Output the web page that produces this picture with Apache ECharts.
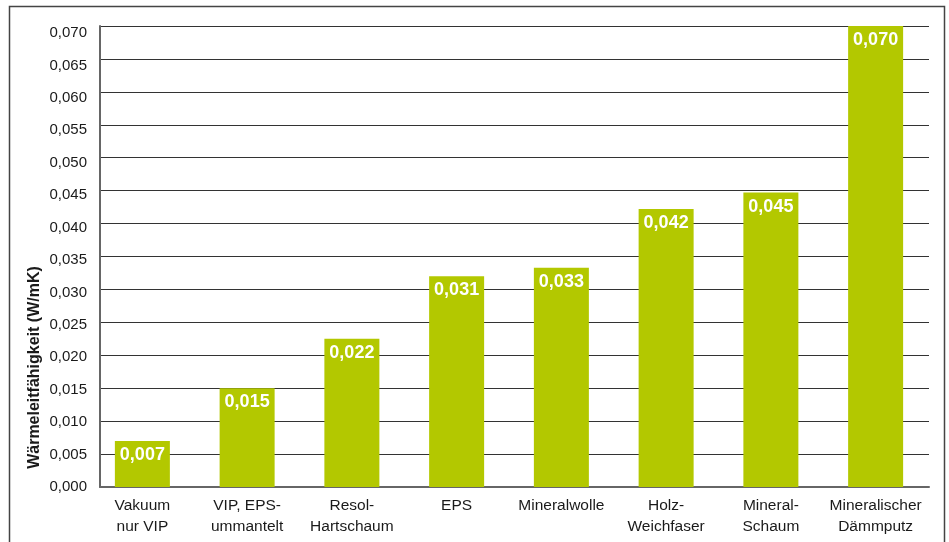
<!DOCTYPE html>
<html>
<head>
<meta charset="utf-8">
<script src="https://cdn.jsdelivr.net/npm/echarts@6/dist/echarts.min.js"></script>
<style>
html,body{margin:0;padding:0;background:#fff;}
#chart{width:949px;height:542px;}
</style>
</head>
<body>
<div id="chart"></div>
<script>
const categories = ["Vakuum\nnur VIP", "VIP, EPS-\nummantelt", "Resol-\nHartschaum", "EPS", "Mineralwolle", "Holz-\nWeichfaser", "Mineral-\nSchaum", "Mineralischer\nDämmputz"];
const values = [0.007, 0.015, 0.0225, 0.032, 0.0333, 0.0422, 0.0447, 0.070];
const valueLabels = ["0,007", "0,015", "0,022", "0,031", "0,033", "0,042", "0,045", "0,070"];
const yAxisName = "Wärmeleitfähigkeit (W/mK)";

const font = "'Liberation Sans', Arial, sans-serif";
const chart = echarts.init(document.getElementById('chart'));
chart.setOption({
  animation: false,
  backgroundColor: '#fff',
  graphic: [{
    type: 'rect',
    shape: {x: 9.5, y: 6.5, width: 935, height: 600},
    style: {fill: 'none', stroke: '#444', lineWidth: 1.5},
    silent: true
  }],
  grid: [
    {left: 100, right: 20, top: 26, bottom: 55},
    {left: 90, right: 21, top: 26, bottom: 55},
    {left: 100, right: 20, top: 33, bottom: 55}
  ],
  xAxis: [
    {
      gridIndex: 0, type: 'category', data: categories,
      axisLine: {show: true, lineStyle: {color: '#666', width: 2}},
      axisTick: {show: false}, axisLabel: {show: false}
    },
    {
      gridIndex: 1, type: 'category', data: categories,
      axisLine: {show: false}, axisTick: {show: false},
      axisLabel: {interval: 0, color: '#1a1a1a', fontFamily: font, fontSize: 15.5, lineHeight: 21, margin: 8}
    },
    {
      gridIndex: 2, type: 'category', data: categories, show: false
    }
  ],
  yAxis: [
    {
      gridIndex: 0, type: 'value', min: 0, max: 0.07, interval: 0.005,
      name: yAxisName, nameLocation: 'middle', nameGap: 57,
      nameTextStyle: {fontFamily: font, fontSize: 16, fontWeight: 'bold', color: '#1a1a1a', padding: [0, 222, 0, 0]},
      axisLine: {show: true, lineStyle: {color: '#666', width: 2}},
      axisTick: {show: false},
      splitLine: {show: true, lineStyle: {color: '#333', width: 1.2}},
      axisLabel: {show: false}
    },
    {
      gridIndex: 1, type: 'value', min: 0, max: 0.07, show: false
    },
    {
      gridIndex: 2, type: 'value', min: 0, max: 0.07, interval: 0.005,
      axisLine: {show: false}, axisTick: {show: false}, splitLine: {show: false},
      axisLabel: {
        color: '#1a1a1a', fontFamily: font, fontSize: 15, margin: 13,
        formatter: v => v.toFixed(3).replace('.', ',')
      }
    }
  ],
  series: [{
    type: 'bar', xAxisIndex: 1, yAxisIndex: 1,
    data: values, barWidth: 55,
    itemStyle: {color: '#b3c800'},
    label: {
      show: true, position: 'insideTop', distance: 5,
      color: '#fff', fontFamily: font, fontSize: 18, fontWeight: 'bold',
      formatter: p => valueLabels[p.dataIndex]
    }
  }]
});
</script>
</body>
</html>
